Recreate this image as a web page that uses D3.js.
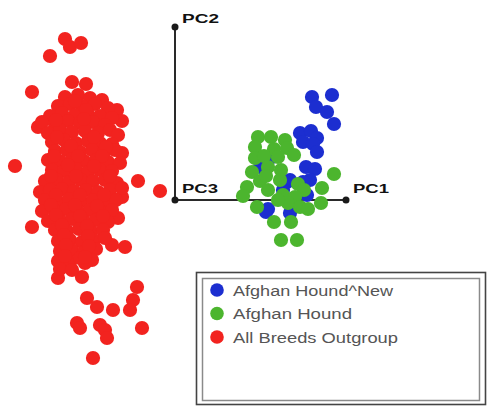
<!DOCTYPE html>
<html>
<head>
<meta charset="utf-8">
<script src="https://cdn.jsdelivr.net/npm/d3@7"></script>
<style>
  html, body { margin: 0; padding: 0; background: #fff; }
  svg { display: block; }
</style>
</head>
<body>
<svg id="chart" width="491" height="411"></svg>
<script>
// PCA scores (PC1, PC2) per group
const afghanNew = [
  [13.7,10.3],[15.7,10.5],[14.1,9.3],[15.2,8.8],[15.9,7.6],[12.5,6.7],[13.6,6.9],[14.2,6.2],
  [12.8,5.8],[13.8,5.6],[14.2,4.8],[9.7,4.3],[13.1,3.3],[14.0,3.1],[8.5,3.3],[13.5,2.0],
  [12.8,1.8],[11.2,1.8],[11.5,2.0],[13.2,0.5],[9.3,-0.9],[9.1,-1.2],[11.5,-1.3],[10.8,1.0]
];
const afghan = [
  [8.3,6.3],[9.6,6.3],[11.0,6.0],[8.0,5.3],[9.9,5.1],[11.2,5.2],[8.0,4.2],[8.9,4.4],
  [10.3,4.3],[11.9,4.5],[7.7,2.8],[9.3,3.3],[10.6,3.0],[7.2,1.3],[8.5,1.9],[10.5,2.0],
  [6.8,0.4],[8.2,-0.7],[12.3,1.6],[12.9,1.0],[14.7,1.2],[15.9,2.6],[10.8,0.5],[12.0,0.3],
  [11.3,-0.3],[10.3,0.0],[14.6,-0.3],[12.5,-0.7],[13.3,-0.9],[9.9,-2.2],[11.6,-2.2],
  [10.6,-4.0],[12.2,-4.0],[9.3,1.0],[9.1,2.4]
];
const outgroup = [
  [-11.0,16.1],[-10.5,15.3],[-9.4,15.7],[-12.5,14.4],[-10.3,11.8],[-8.9,11.6],[-14.3,10.8],
  [-7.3,10.0],[-5.8,9.0],[-5.3,7.9],[-13.7,7.3],[-16.0,3.4],[-3.7,1.9],[-1.5,0.9],[-5.3,4.7],
  [-5.3,0.3],[-5.7,-1.8],[-14.3,-2.7],[-6.3,-4.5],[-5.0,-4.7],[-11.7,-7.8],[-9.3,-7.7],
  [-9.0,-6.3],[-3.8,-8.7],[-4.2,-10.0],[-4.5,-11.0],[-8.8,-9.8],[-7.8,-10.7],[-6.2,-11.0],
  [-9.8,-12.3],[-9.5,-12.8],[-7.5,-12.5],[-7.0,-13.0],[-6.8,-13.8],[-3.3,-12.8],[-8.2,-15.8],
  [-11.0,10.3],[-9.7,10.5],[-8.5,10.2],
  [-11.7,9.4],[-10.5,9.6],[-9.3,9.4],[-8.0,9.6],[-6.7,9.2],
  [-12.5,8.4],[-11.3,8.7],[-10.0,8.5],[-8.7,8.6],[-7.5,8.4],[-6.3,8.2],
  [-13.3,7.8],[-12.0,7.6],[-10.7,7.9],[-9.5,7.7],[-8.2,7.8],[-7.0,7.5],
  [-12.7,6.7],[-11.5,7.0],[-10.3,6.8],[-9.0,6.9],[-7.7,6.7],[-6.5,7.0],[-5.7,6.5],
  [-12.3,5.8],[-11.1,6.0],[-9.9,5.7],[-8.7,5.9],[-7.5,5.7],[-6.3,5.6],
  [-12.0,4.9],[-10.8,5.0],[-9.5,4.8],[-8.3,5.0],[-7.1,4.8],[-6.0,5.0],
  [-12.7,4.0],[-11.5,3.9],[-10.3,4.1],[-9.1,3.9],[-7.9,4.0],[-6.7,3.8],[-5.5,3.7],
  [-12.3,3.0],[-11.1,2.9],[-9.9,3.1],[-8.7,2.8],[-7.5,3.0],[-6.3,2.9],
  [-13.0,1.9],[-11.8,2.0],[-10.6,1.8],[-9.4,2.0],[-8.2,1.9],[-7.0,2.0],[-5.8,1.7],
  [-13.5,0.8],[-12.5,1.0],[-11.3,1.1],[-10.1,0.9],[-8.9,1.0],[-7.7,0.8],[-6.5,1.0],[-5.3,1.2],
  [-13.0,0.0],[-11.8,-0.1],[-10.6,0.1],[-9.4,-0.1],[-8.2,0.0],[-7.0,-0.2],[-5.9,0.0],
  [-13.3,-1.1],[-12.1,-1.0],[-10.9,-0.9],[-9.7,-1.1],[-8.5,-1.0],[-7.3,-1.2],[-6.3,-1.0],
  [-12.7,-2.1],[-11.5,-2.0],[-10.3,-1.9],[-9.1,-2.1],[-7.9,-2.0],[-6.7,-2.2],
  [-12.0,-3.0],[-10.8,-3.1],[-9.6,-2.9],[-8.4,-3.1],[-7.2,-3.0],
  [-11.7,-4.1],[-10.5,-4.0],[-9.3,-4.2],[-8.1,-4.0],[-7.0,-3.8],
  [-11.5,-5.1],[-10.3,-5.0],[-9.1,-5.2],[-7.9,-4.9],
  [-11.7,-6.1],[-10.5,-6.2],[-9.5,-5.8],[-8.3,-6.0],
  [-11.5,-6.9],[-10.3,-7.0],
  [-10.0,9.9],[-8.9,9.0],[-11.9,8.0],[-9.1,8.1],[-11.8,6.3],[-8.1,6.3],[-10.4,5.4],[-6.9,5.3],
  [-12.1,4.4],[-9.7,4.4],[-7.3,4.4],[-10.7,3.5],[-8.1,3.4],[-12.4,2.4],[-9.9,2.4],[-6.5,2.4],
  [-11.9,0.5],[-9.5,0.5],[-7.1,0.5],[-12.4,-0.5],[-10.0,-0.5],[-7.8,-0.6],[-11.9,-1.5],
  [-9.5,-1.6],[-7.2,-1.6],[-11.3,-2.5],[-8.8,-2.6],[-11.1,-3.5],[-8.7,-3.6],[-10.9,-4.5],
  [-8.6,-4.6],[-11.0,-5.6],[-9.0,-5.7]
];

// Axis glyph: origin plus the two axis tips, in score units
const axisEnds = [
  { name: "PC1", x: 17.1, y: 0 },
  { name: "PC2", x: 0, y: 17.3 }
];
const originLabel = "PC3";

const legendLabels = ["Afghan Hound^New", "Afghan Hound", "All Breeds Outgroup"];
const legendColors = ["#1c2ed0", "#4cb52e", "#f2231f"];

const svg = d3.select("#chart");
svg.append("rect").attr("width", 491).attr("height", 411).attr("fill", "#fff");

const x = d3.scaleLinear().domain([0, 17.1]).range([175, 346]);
const y = d3.scaleLinear().domain([0, 17.3]).range([200, 27]);

// axis lines
const axes = svg.append("g");
axisEnds.forEach(a => {
  axes.append("line")
    .attr("x1", x(0)).attr("y1", y(0))
    .attr("x2", x(a.x)).attr("y2", y(a.y))
    .attr("stroke", "#2a2a2a").attr("stroke-width", 2);
});
[{ x: 0, y: 0 }, ...axisEnds].forEach(p => {
  axes.append("circle").attr("cx", x(p.x)).attr("cy", y(p.y)).attr("r", 3.5).attr("fill", "#1a1a1a");
});

// point groups
const groups = [
  { data: outgroup, color: legendColors[2] },
  { data: afghanNew, color: legendColors[0] },
  { data: afghan, color: legendColors[1] }
];
groups.forEach(g => {
  svg.append("g").selectAll("circle").data(g.data).join("circle")
    .attr("cx", d => x(d[0]))
    .attr("cy", d => y(d[1]))
    .attr("r", 7.1)
    .attr("fill", g.color);
});

// axis labels
const lab = svg.append("g")
  .attr("font-family", "Liberation Sans, Arial, sans-serif")
  .attr("font-weight", "bold")
  .attr("font-size", 13)
  .attr("fill", "#111");
lab.append("text").attr("x", x(0) + 7).attr("y", y(17.3) - 4)
  .attr("textLength", 37).attr("lengthAdjust", "spacingAndGlyphs").text(axisEnds[1].name);
lab.append("text").attr("x", x(0) + 7).attr("y", y(0) - 7)
  .attr("textLength", 36).attr("lengthAdjust", "spacingAndGlyphs").text(originLabel);
lab.append("text").attr("x", x(17.1) + 7).attr("y", y(0) - 7)
  .attr("textLength", 36).attr("lengthAdjust", "spacingAndGlyphs").text(axisEnds[0].name);

// legend
const lg = svg.append("g");
lg.append("rect").attr("x", 196.5).attr("y", 272.5).attr("width", 289).attr("height", 132)
  .attr("fill", "#fff").attr("stroke", "#444").attr("stroke-width", 1.6);
lg.append("rect").attr("x", 202.5).attr("y", 278.5).attr("width", 277).attr("height", 122)
  .attr("fill", "none").attr("stroke", "#8a8a8a").attr("stroke-width", 1.5);
const widths = [160, 119, 165];
legendLabels.forEach((t, i) => {
  const cy = 290 + i * 23.5;
  lg.append("circle").attr("cx", 217).attr("cy", cy).attr("r", 6.8).attr("fill", legendColors[i]);
  lg.append("text").attr("x", 233).attr("y", cy + 5.5)
    .attr("font-family", "Liberation Sans, Arial, sans-serif")
    .attr("font-size", 14).attr("fill", "#555")
    .attr("textLength", widths[i]).attr("lengthAdjust", "spacingAndGlyphs")
    .text(t);
});
</script>
</body>
</html>
